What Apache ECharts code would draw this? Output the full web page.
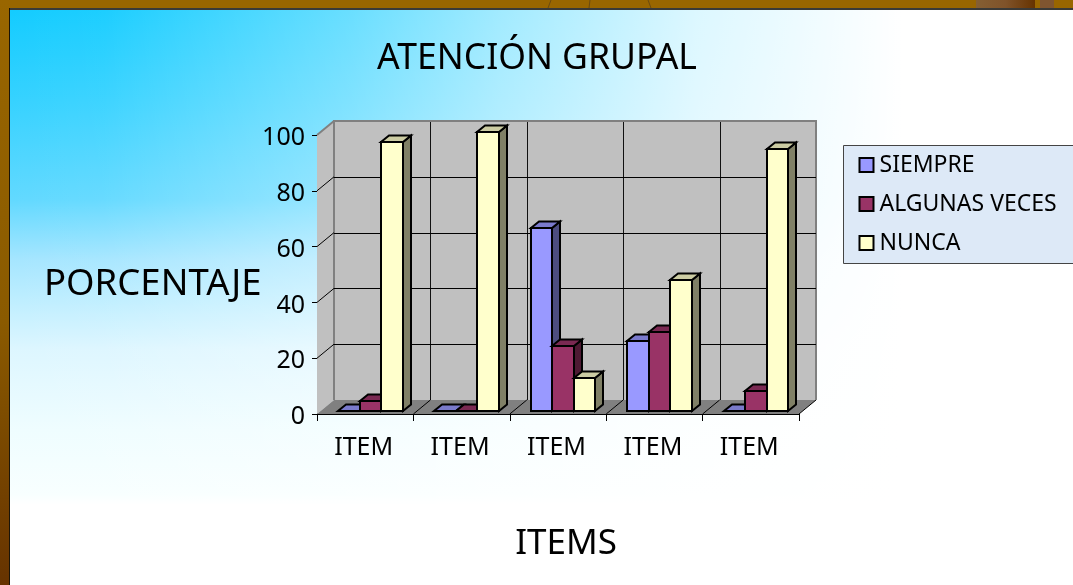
<!DOCTYPE html>
<html><head><meta charset="utf-8">
<style>html,body{margin:0;padding:0;background:#fff}#c{width:1073px;height:585px}</style>
<script src="https://cdn.jsdelivr.net/npm/echarts@6/dist/echarts.min.js"></script>
</head><body><div id="c"></div>
<script>
const categories = ['ITEM','ITEM','ITEM','ITEM','ITEM'];
const siempre = [0, 0, 65.4, 25, 0];
const algunasVeces = [3.5, 0, 23.2, 28.3, 7];
const nunca = [96.4, 100, 11.8, 46.8, 93.7];
const valueTicks = [0, 20, 40, 60, 80, 100];

const FONT = '"Noto Sans", sans-serif';
const WALL = {dx: 17, dy: -14};
const BAR = {startDx: 4, startDy: -3.3, dx: 8, dy: -6.5, lead: 17, width: 21.5};
const crisp = v => Math.round(v) + 0.5;

function poly(points, fill, stroke, lw) {
  return {type: 'polygon', shape: {points}, style: {fill, stroke: stroke || null, lineWidth: lw || 0, lineJoin: 'miter'}};
}
function line(a, b, stroke, lw) {
  return {type: 'line', shape: {x1: a[0], y1: a[1], x2: b[0], y2: b[1]}, style: {stroke, lineWidth: lw || 1}};
}
function renderWalls(params, api) {
  const band = api.size([1, 0])[0];
  const v = api.value(1);
  const x0 = api.coord([0, 0])[0] - band / 2;
  const xN = x0 + band * categories.length;
  const y = api.coord([0, v])[1];
  const children = [];
  const d = WALL;
  if (params.dataIndex === 0) {
    const yb = api.coord([0, valueTicks[0]])[1];
    const yt = api.coord([0, valueTicks[valueTicks.length - 1]])[1];
    children.push(poly([[x0 + d.dx, yt + d.dy], [xN + d.dx, yt + d.dy], [xN + d.dx, yb + d.dy], [x0 + d.dx, yb + d.dy]], '#C0C0C0'));
    children.push(poly([[x0, yt], [x0 + d.dx, yt + d.dy], [x0 + d.dx, yb + d.dy], [x0, yb]], '#C0C0C0'));
    children.push(poly([[x0, yb], [xN, yb], [xN + d.dx, yb + d.dy], [x0 + d.dx, yb + d.dy]], '#808080'));
    for (let i = 1; i < categories.length; i++) {
      const x = x0 + band * i;
      children.push(line([crisp(x + d.dx), yt + d.dy], [crisp(x + d.dx), yb + d.dy], '#111', 1));
      children.push(line([x, yb], [x + d.dx, yb + d.dy], '#000', 1));
    }
    children.push(line([xN, yb], [xN + d.dx, yb + d.dy], '#000', 1));
    children.push({type: 'polyline', shape: {points: [[x0 + d.dx, yb + d.dy], [x0 + d.dx, yt + d.dy], [xN + d.dx, yt + d.dy], [xN + d.dx, yb + d.dy]]}, style: {fill: null, stroke: '#808080', lineWidth: 2}});
    children.push(line([x0, yt], [x0 + d.dx, yt + d.dy], '#808080', 2));
  }
  if (v !== valueTicks[0] && v !== valueTicks[valueTicks.length - 1]) {
    children.push(line([x0 + d.dx, crisp(y + d.dy)], [xN + d.dx, crisp(y + d.dy)], '#000', 1));
    children.push(line([x0, y], [x0 + d.dx, y + d.dy], '#000', 1));
  }
  return {type: 'group', children};
}
function barRenderer(seriesIdx, front, top, side) {
  return function (params, api) {
    const cat = api.value(0);
    const band = api.size([1, 0])[0];
    const base = api.coord([cat, 0]);
    const head = api.coord([cat, api.value(1)]);
    const l0 = base[0] - band / 2 + BAR.startDx + BAR.lead + seriesIdx * BAR.width;
    const l = Math.round(l0);
    const r = Math.round(l0 + BAR.width);
    const yb = Math.round(base[1] + BAR.startDy);
    const yt = Math.round(head[1] + BAR.startDy);
    const {dx, dy} = BAR;
    return {type: 'group', children: [
      poly([[r, yb], [r + dx, yb + dy], [r + dx, yt + dy], [r, yt]], side, '#000', 2),
      poly([[l, yt], [r, yt], [r + dx, yt + dy], [l + dx, yt + dy]], top, '#000', 2),
      poly([[l, yb], [r, yb], [r, yt], [l, yt]], front, '#000', 2)
    ]};
  };
}
function barSeries(name, values, idx, front, top, side) {
  return {
    type: 'custom', name, clip: false, z: 5,
    itemStyle: {color: front},
    encode: {x: 0, y: 1},
    data: values.map((v, i) => [i, v]),
    renderItem: barRenderer(idx, front, top, side)
  };
}
const bg = new echarts.graphic.LinearGradient(0, 10, 0, 585, [
  {offset: 0, color: '#14CCFF'},
  {offset: 0.157, color: '#36D2FF'},
  {offset: 0.33, color: '#62D9FF'},
  {offset: 0.435, color: '#A6E6FF'},
  {offset: 0.504, color: '#BEEEFF'},
  {offset: 0.59, color: '#DDF6FF'},
  {offset: 0.73, color: '#EFFDFF'},
  {offset: 0.843, color: '#F8FFFF'},
  {offset: 0.86, color: '#FFFFFF'},
  {offset: 1, color: '#FFFFFF'}
], true);
const whiteWash = new echarts.graphic.LinearGradient(10, 0, 950, 0, [
  {offset: 0, color: 'rgba(255,255,255,0)'},
  {offset: 0.1, color: 'rgba(255,255,255,0.04)'},
  {offset: 0.36, color: 'rgba(255,255,255,0.36)'},
  {offset: 0.52, color: 'rgba(255,255,255,0.6)'},
  {offset: 0.73, color: 'rgba(255,255,255,0.85)'},
  {offset: 0.95, color: 'rgba(255,255,255,1)'},
  {offset: 1, color: 'rgba(255,255,255,1)'}
], true);

const chart = echarts.init(document.getElementById('c'), null, {renderer: 'canvas'});
const legendBorder = {borderColor: '#000', borderWidth: 2};
const titleText = {fontFamily: FONT, fontWeight: 'normal', color: '#000'};
chart.setOption({
  animation: false,
  backgroundColor: bg,
  title: [
    {text: 'ATENCIÓN GRUPAL', left: 537, top: 41, textAlign: 'center', padding: 0,
     textStyle: {...titleText, fontSize: 35.5}},
    {text: 'PORCENTAJE', left: 44, top: 266, padding: 0,
     textStyle: {...titleText, fontSize: 36.5}}
  ],
  grid: {left: 317, top: 135, width: 482, height: 279, containLabel: false, outerBoundsMode: 'none'},
  legend: {
    left: 843.5, top: 145.5, orient: 'vertical', selectedMode: false,
    icon: 'rect', itemWidth: 14, itemHeight: 14, itemGap: 16, padding: [8, 40, 9, 15],
    backgroundColor: '#DDE9F7', borderColor: '#444', borderWidth: 1,
    textStyle: {fontFamily: FONT, fontSize: 23, color: '#000', padding: [0, 0, 0, 1]},
    data: [
      {name: 'SIEMPRE', itemStyle: legendBorder},
      {name: 'ALGUNAS VECES', itemStyle: legendBorder},
      {name: 'NUNCA', itemStyle: legendBorder}
    ]
  },
  xAxis: {
    type: 'category', data: categories, boundaryGap: true,
    name: 'ITEMS', nameLocation: 'middle', nameGap: 113,
    nameTextStyle: {fontFamily: FONT, fontSize: 35, color: '#000', padding: [0, 0, 0, 16]},
    axisLine: {show: true, lineStyle: {color: '#000', width: 1}},
    axisTick: {show: true, length: 7, alignWithLabel: false, lineStyle: {color: '#000'}},
    axisLabel: {fontFamily: FONT, fontSize: 25, color: '#000', margin: 21, padding: [0, 3, 0, 0]}
  },
  yAxis: {
    type: 'value', min: 0, max: 100, interval: 20,
    axisLine: {show: true, lineStyle: {color: '#666', width: 1}},
    axisTick: {show: true, length: 5, lineStyle: {color: '#000'}},
    axisLabel: {fontFamily: FONT, fontSize: 25, color: '#000', margin: 12, verticalAlign: 'top', lineHeight: 6},
    splitLine: {show: false}
  },
  series: [
    {type: 'custom', name: 'walls', clip: false, z: 1, silent: true,
     encode: {x: 0, y: 1}, data: valueTicks.map(t => [0, t]), renderItem: renderWalls},
    barSeries('SIEMPRE', siempre, 0, '#9999FF', '#7A7ACC', '#4D4D80'),
    barSeries('ALGUNAS VECES', algunasVeces, 1, '#993366', '#7A2952', '#4D1A33'),
    barSeries('NUNCA', nunca, 2, '#FFFFCC', '#CCCCA3', '#808066')
  ],
  graphic: {elements: [
    {type: 'rect', z: -5, shape: {x: 0, y: 0, width: 1073, height: 585}, style: {fill: whiteWash}},
    {type: 'rect', z: 100, shape: {x: 0, y: 0, width: 1073, height: 8}, style: {fill: '#996600'}},
    {type: 'rect', z: 101, shape: {x: 976, y: 0, width: 59, height: 8},
      style: {fill: new echarts.graphic.LinearGradient(0, 0, 1, 0, [{offset: 0, color: '#855F33'}, {offset: 0.5, color: '#80532A'}, {offset: 1, color: '#663300'}])}},
    {type: 'rect', z: 101, shape: {x: 1040, y: 0, width: 14, height: 8}, style: {fill: '#805530'}},
    {type: 'line', z: 101, shape: {x1: 551, y1: 0, x2: 548, y2: 8}, style: {stroke: '#6B4A10', lineWidth: 1}},
    {type: 'line', z: 101, shape: {x1: 590, y1: 0, x2: 589, y2: 8}, style: {stroke: '#6B4A10', lineWidth: 1}},
    {type: 'line', z: 101, shape: {x1: 648, y1: 0, x2: 651, y2: 8}, style: {stroke: '#6B4A10', lineWidth: 1}},
    {type: 'rect', z: 100, shape: {x: 0, y: 8, width: 1073, height: 2}, style: {fill: '#3A3A38'}},
    {type: 'rect', z: 102, shape: {x: 0, y: 0, width: 9, height: 585},
      style: {fill: new echarts.graphic.LinearGradient(0, 0, 0, 1, [{offset: 0, color: '#996600'}, {offset: 0.55, color: '#8A5A00'}, {offset: 1, color: '#663300'}])}},
    {type: 'rect', z: 102, shape: {x: 9, y: 8, width: 1, height: 577}, style: {fill: '#1a1408'}}
  ]}
});
</script></body></html>
